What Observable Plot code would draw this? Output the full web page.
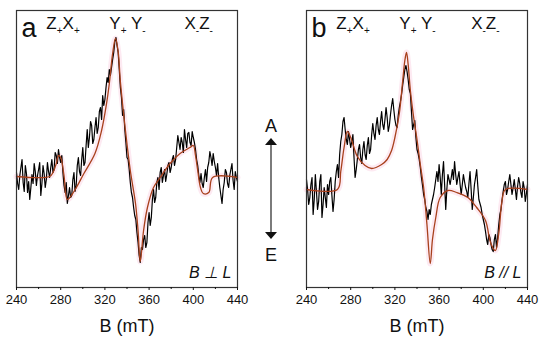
<!DOCTYPE html>
<html>
<head>
<meta charset="utf-8">
<script src="https://cdn.jsdelivr.net/npm/d3@7"></script>
<script src="https://cdn.jsdelivr.net/npm/@observablehq/plot@0.6"></script>
<style>
  html, body { margin: 0; padding: 0; background: #fff; }
  #wrap { position: relative; width: 550px; height: 340px; overflow: hidden; font-family: "Liberation Sans", Arial, sans-serif; }
  .panel { position: absolute; top: 0; }
  #arrow { position: absolute; left: 240px; top: 0; }
</style>
</head>
<body>
<div id="wrap">
  <div class="panel" id="pa" style="left:0px"></div>
  <div class="panel" id="pb" style="left:290px"></div>
  <svg id="arrow" width="62" height="340">
    <line x1="31" y1="142" x2="31" y2="235" stroke="#444" stroke-width="1.4"></line>
    <path d="M31,138 L37,145 L25,145 Z" fill="#111"></path>
    <path d="M31,239 L37,232 L25,232 Z" fill="#111"></path>
    <text x="31" y="132" text-anchor="middle" font-size="18" font-family="Liberation Sans, Arial" fill="#111">A</text>
    <text x="31" y="261" text-anchor="middle" font-size="18" font-family="Liberation Sans, Arial" fill="#111">E</text>
  </svg>
</div>
<script>
// Field grid of the measured spectra (mT)
const fieldB = d3.range(240, 441, 1);

// Panel a: measured spectrum (arb. units), B = 240..440 step 1
const expA = [
  5, -6, -12, 2, 10, 18, -5, -14, 12, 4, -15, -4, -22, -10, 3, -6, 14, 6, -8, 2,
  8, 15, -18, -6, 12, 4, -10, -2, 15, 6, 0, 10, 18, 5, 8, 25, 22, 14, 28, 20,
  15, 22, 5, -8, -15, -5, -26, -18, -10, -20, -18, -2, 5, -14, -8, 12, 20, 6, 2, 18,
  30, 12, 15, 32, 48, 30, 40, 56, 52, 34, 38, 50, 60, 44, 50, 66, 70, 58, 82, 72,
  78, 90, 100, 95, 108, 102, 110, 118, 125, 136, 140, 132, 125, 108, 90, 80, 62, 68, 48, 35,
  20, 18, 8, -5, -15, -20, -30, -38, -42, -55, -65, -78, -85, -70, -72, -62, -58, -70, -65, -45,
  -35, -48, -40, -22, -12, -25, -20, -5, 0, -12, 5, 10, -5, 2, 8, -4, 3, 12, 15, 5,
  10, 18, 22, 12, 18, 30, 42, 35, 28, 40, 35, 25, 48, 38, 30, 44, 45, 35, 32, 46,
  40, 35, 28, 18, 12, 2, -5, 4, -6, -10, 0, 8, -4, 10, 15, 26, 20, 12, 24, 16,
  10, 2, 14, 0, -10, -18, -26, -12, -5, 8, 5, -6, -10, 2, 8, 14, -3, -12, 6, 0,
  -4
];

// Panel a: simulation
const simFieldA = [240, 270, 273, 276, 278, 280, 283, 286, 292, 301, 311, 317, 321.5, 324, 327, 329.6, 332, 334, 338.6, 343, 347.7, 350, 352, 355, 358.5, 364, 370, 379, 388, 397, 400, 402, 404, 406.5, 409, 414, 417.5, 440];
const simA = [1, 1, 5, 14, 22, 20, 2, -22, -14, 4, 24, 47, 74, 94, 124, 139, 126, 96, 47, 7, -26, -53, -84, -53, -30, -10, 0, 14, 24, 30, 32, 22, 7, -10, -16, -15, 0, 0];

// Panel b: measured spectrum (arb. units), B = 240..440 step 1
const expB = [
  10, 0, -15, -8, 5, 12, -25, -10, 15, -2, -20, -12, 8, 15, -28, -15, 2, -8, -18, 5,
  -5, 8, 12, -6, -22, -10, 8, 18, 25, 12, 35, 48, 55, 68, 72, 60, 50, 45, 58, 50,
  42, 48, 55, 32, 12, 20, 30, 40, 45, 32, 26, 40, 48, 35, 30, 44, 52, 36, 40, 55,
  66, 56, 50, 64, 72, 60, 55, 68, 78, 65, 60, 70, 82, 72, 58, 64, 75, 84, 91, 80,
  70, 64, 62, 74, 82, 88, 95, 104, 112, 120, 124, 118, 110, 100, 96, 78, 60, 65, 69, 52,
  40, 36, 30, 22, 12, 4, -5, -10, -18, -22, -30, -20, -25, -15, -10, -5, 2, 10, 18, 8,
  25, 12, -5, 15, 28, 5, -20, 0, 15, 10, 5, 12, 20, 10, 28, 15, 5, 12, 18, 5,
  -5, 5, 15, 8, 2, -2, -8, 6, 18, 0, -20, -8, 5, 12, 20, 4, -10, -14, -18, -25,
  -30, -35, -42, -50, -55, -45, -48, -55, -60, -62, -50, -45, -58, -48, -35, -25, -20, -10, -2, 5,
  8, -5, 0, 8, 15, 5, -5, 2, 10, 0, -10, 3, 12, 6, -3, -8, 8, 2, -12, -4,
  5
];

// Panel b: simulation
const simFieldB = [240, 268, 271, 274, 277, 280, 286, 293, 299, 308, 313, 317, 320, 324, 327, 329, 330.5, 332, 334, 337, 340, 343, 346, 349, 352, 354, 357, 361, 368, 376, 386, 394, 402, 406, 409, 411, 414, 417, 420, 440];
const simB = [0, 0, 18, 42, 58, 52, 33, 24, 21, 25, 30, 39, 52, 76, 108, 129, 137, 125, 99, 72, 50, 25, 2, -35, -74, -50, -28, -8, -1, -3, -8, -18, -31, -51, -59, -61, -44, -11, 0, 0];

// Tick labels
const majorTicks = [240, 280, 320, 360, 400, 440];
const minorTicks = [260, 300, 340, 380, 420];

// Transition labels: [field, text]
const transA = [[267, "Z+X+"], [324, "Y+ Y-"], [392, "X-Z-"]];
const transB = [[267, "Z+X+"], [324, "Y+ Y-"], [389, "X-Z-"]];

function subscriptSigns(svg) {
  d3.select(svg).selectAll("text").each(function () {
    const t = this.textContent;
    if (!/^[XYZ][+-]/.test(t)) return;
    const sel = d3.select(this);
    sel.text(null);
    let shifted = false;
    for (const ch of t) {
      const isSign = ch === "+" || ch === "-";
      const ts = sel.append("tspan").text(isSign ? (ch === "+" ? "+" : "-") : ch);
      if (isSign) {
        ts.attr("font-size", 10).attr("dy", shifted ? 0 : 5);
        shifted = true;
      } else {
        if (shifted) ts.attr("dy", -5);
        shifted = false;
      }
    }
  });
  return svg;
}

function panel(letter, exp, simF, sim, yDomain, trans, orient) {
  const expData = fieldB.map((b, i) => ({b, v: exp[i]}));
  const simData = simF.map((b, i) => ({b, v: sim[i]}));
  const svg = Plot.plot({
    width: 260, height: 340,
    marginLeft: 16, marginRight: 23, marginTop: 10, marginBottom: 53,
    style: {fontFamily: "Liberation Sans, Arial, sans-serif", fontSize: "13px", color: "#111", background: "transparent"},
    x: {domain: [240, 440]},
    y: {domain: yDomain, axis: null},
    marks: [
      Plot.line(simData, {x: "b", y: "v", curve: "catmull-rom", stroke: "#fdeaf2", strokeWidth: 6}),
      Plot.line(expData, {x: "b", y: "v", stroke: "#000", strokeWidth: 1.2}),
      Plot.line(simData, {x: "b", y: "v", curve: "catmull-rom", stroke: "#a8401c", strokeWidth: 1.3}),
      Plot.frame({stroke: "#333", strokeWidth: 1.2}),
      Plot.axisX({ticks: majorTicks, tickSize: 3, tickPadding: 4, label: null, fontSize: 13}),
      Plot.axisX({ticks: minorTicks, tickSize: 2, tickFormat: () => "", label: null}),
      Plot.text(["B (mT)"], {frameAnchor: "bottom", dy: 44, fontSize: 18, lineAnchor: "bottom"}),
      Plot.text([letter], {frameAnchor: "top-left", dx: 5, dy: 26, fontSize: 27, textAnchor: "start", lineAnchor: "bottom"}),
      Plot.text(trans, {x: d => d[0], text: d => d[1], frameAnchor: "top", dy: 18, fontSize: 17, textAnchor: "start", lineAnchor: "bottom"}),
      Plot.text([orient], {frameAnchor: "bottom-right", dx: -6, dy: -10, fontSize: 16, fontStyle: "italic", textAnchor: "end", lineAnchor: "bottom"})
    ]
  });
  return subscriptSigns(svg);
}

document.getElementById("pa").appendChild(panel("a", expA, simFieldA, simA, [-110, 167], transA, "B ⊥ L"));
document.getElementById("pb").appendChild(panel("b", expB, simFieldB, simB, [-98, 179], transB, "B // L"));
</script>
</body>
</html>
